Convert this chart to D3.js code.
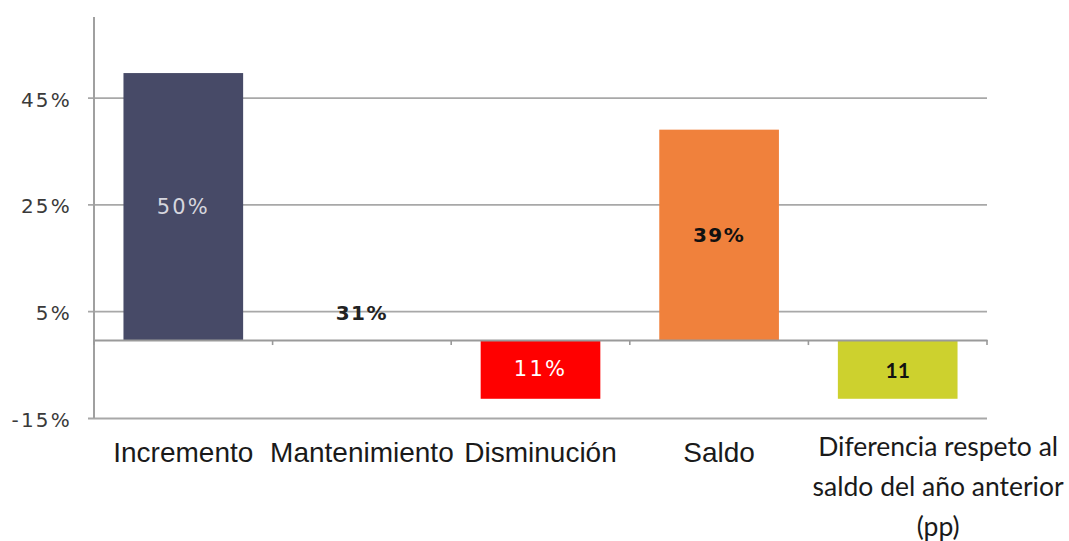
<!DOCTYPE html>
<html>
<head>
<meta charset="utf-8">
<script src="https://cdn.jsdelivr.net/npm/d3@7"></script>
<style>
  html, body { margin: 0; padding: 0; background: #fff; }
  svg { display: block; }
</style>
</head>
<body>
<svg id="chart" width="1069" height="541"></svg>
<script>
// ---- data ----
const categories = ["Incremento", "Mantenimiento", "Disminución", "Saldo", "Diferencia respeto al saldo del año anterior (pp)"];
const categoryLines = [["Incremento"], ["Mantenimiento"], ["Disminución"], ["Saldo"], ["Diferencia respeto al", "saldo del año anterior", "(pp)"]];
const values = [50, 10, -11, 39.4, -11];           // bar extents (Mantenimiento bar is not drawn)
const valueLabels = ["50%", "31%", "11%", "39%", "11"];
const barColors = ["#474a67", "none", "#ff0000", "#f0813c", "#cdd12e"];
const labelColors = ["#d6d6de", "#222222", "#ffffff", "#111111", "#111111"];
const labelWeights = ["normal", "bold", "normal", "bold", "bold"];
const tickValues = [-14.6, 5.4, 25.4, 45.4];
const tickLabels = ["-15%", "5%", "25%", "45%"];
const yDomain = [-14.6, 60.5];

// ---- layout ----
const svg = d3.select("#chart");
const mLeft = 94, mRight = 987, mTop = 17, mBottom = 418;

const x = d3.scaleBand().domain(categories).range([mLeft, mRight]).paddingInner(0.33).paddingOuter(0.165);
const y = d3.scaleLinear().domain(yDomain).range([mBottom, mTop]);

// gridlines + y axis ticks
const yAxis = d3.axisLeft(y).tickValues(tickValues).tickFormat((d, i) => tickLabels[i])
  .tickSize(-(mRight - mLeft)).tickSizeOuter(0).tickPadding(22);
const gy = svg.append("g").attr("transform", `translate(${mLeft},0)`).call(yAxis);
gy.select(".domain").remove();
gy.selectAll(".tick line").attr("stroke", "#a8a8a8").attr("stroke-width", 1.8).attr("x1", -6);
gy.selectAll(".tick text").attr("fill", "#3a3a3a").attr("dy", "0.42em")
  .style("font-family", "'DejaVu Sans', Verdana, sans-serif").style("font-size", "20px")
  .attr("letter-spacing", "2.2px");

// y axis line
svg.append("line").attr("x1", mLeft).attr("x2", mLeft).attr("y1", mTop).attr("y2", mBottom)
  .attr("stroke", "#a0a0a0").attr("stroke-width", 2);

// bars
svg.append("g").selectAll("rect").data(categories).join("rect")
  .attr("x", d => x(d))
  .attr("width", x.bandwidth())
  .attr("y", (d, i) => y(Math.max(0, values[i])))
  .attr("height", (d, i) => Math.abs(y(values[i]) - y(0)))
  .attr("fill", (d, i) => barColors[i]);

// zero axis with category ticks
const xAxis = d3.axisBottom(x).tickSize(0).tickFormat("");
const gx = svg.append("g").attr("transform", `translate(0,${y(0)})`).call(xAxis);
gx.select(".domain").attr("stroke", "#9a9a9a").attr("stroke-width", 2);
const step = x.step();
const boundaries = d3.range(categories.length + 1).map(i => mLeft + i * step);
svg.append("g").selectAll("line").data(boundaries).join("line")
  .attr("x1", d => d).attr("x2", d => d)
  .attr("y1", y(0)).attr("y2", y(0) + 5)
  .attr("stroke", "#9a9a9a").attr("stroke-width", 1.6);

// value labels
svg.append("g").selectAll("text").data(categories).join("text")
  .attr("x", d => x(d) + x.bandwidth() / 2)
  .attr("y", (d, i) => (y(values[i]) + y(0)) / 2)
  .attr("text-anchor", "middle").attr("dominant-baseline", "central")
  .attr("fill", (d, i) => labelColors[i])
  .attr("font-weight", (d, i) => labelWeights[i])
  .style("font-family", (d, i) => i === 4 ? "Lato, sans-serif" : "'DejaVu Sans', Verdana, sans-serif")
  .style("font-size", (d, i) => i === 4 ? "21px" : (labelWeights[i] === "bold" ? "20px" : "21px"))
  .attr("letter-spacing", (d, i) => i === 4 ? "0px" : (labelWeights[i] === "bold" ? "1.5px" : "2.2px"))
  .text((d, i) => valueLabels[i]);

// category labels
const W = 1069;
categories.forEach((c, i) => {
  const multi = categoryLines[i].length > 1;
  const cx = x(c) + x.bandwidth() / 2;
  const t = svg.append("text")
    .attr("text-anchor", "middle")
    .attr("fill", "#1a1a1a")
    .style("font-family", multi ? "Lato, 'Open Sans', sans-serif" : "'Liberation Sans', Arial, sans-serif")
    .style("font-size", multi ? "26.5px" : "28px");
  categoryLines[i].forEach((ln, j) => {
    t.append("tspan").attr("x", cx).attr("y", (multi ? 456 : 462) + j * 40).text(ln);
  });
  // the wrapped last label is pushed against the right edge of the canvas
  if (multi) {
    const bb = t.node().getBBox();
    const shift = (W - 5) - (bb.x + bb.width);
    t.selectAll("tspan").attr("x", cx + shift);
  }
});
</script>
</body>
</html>
